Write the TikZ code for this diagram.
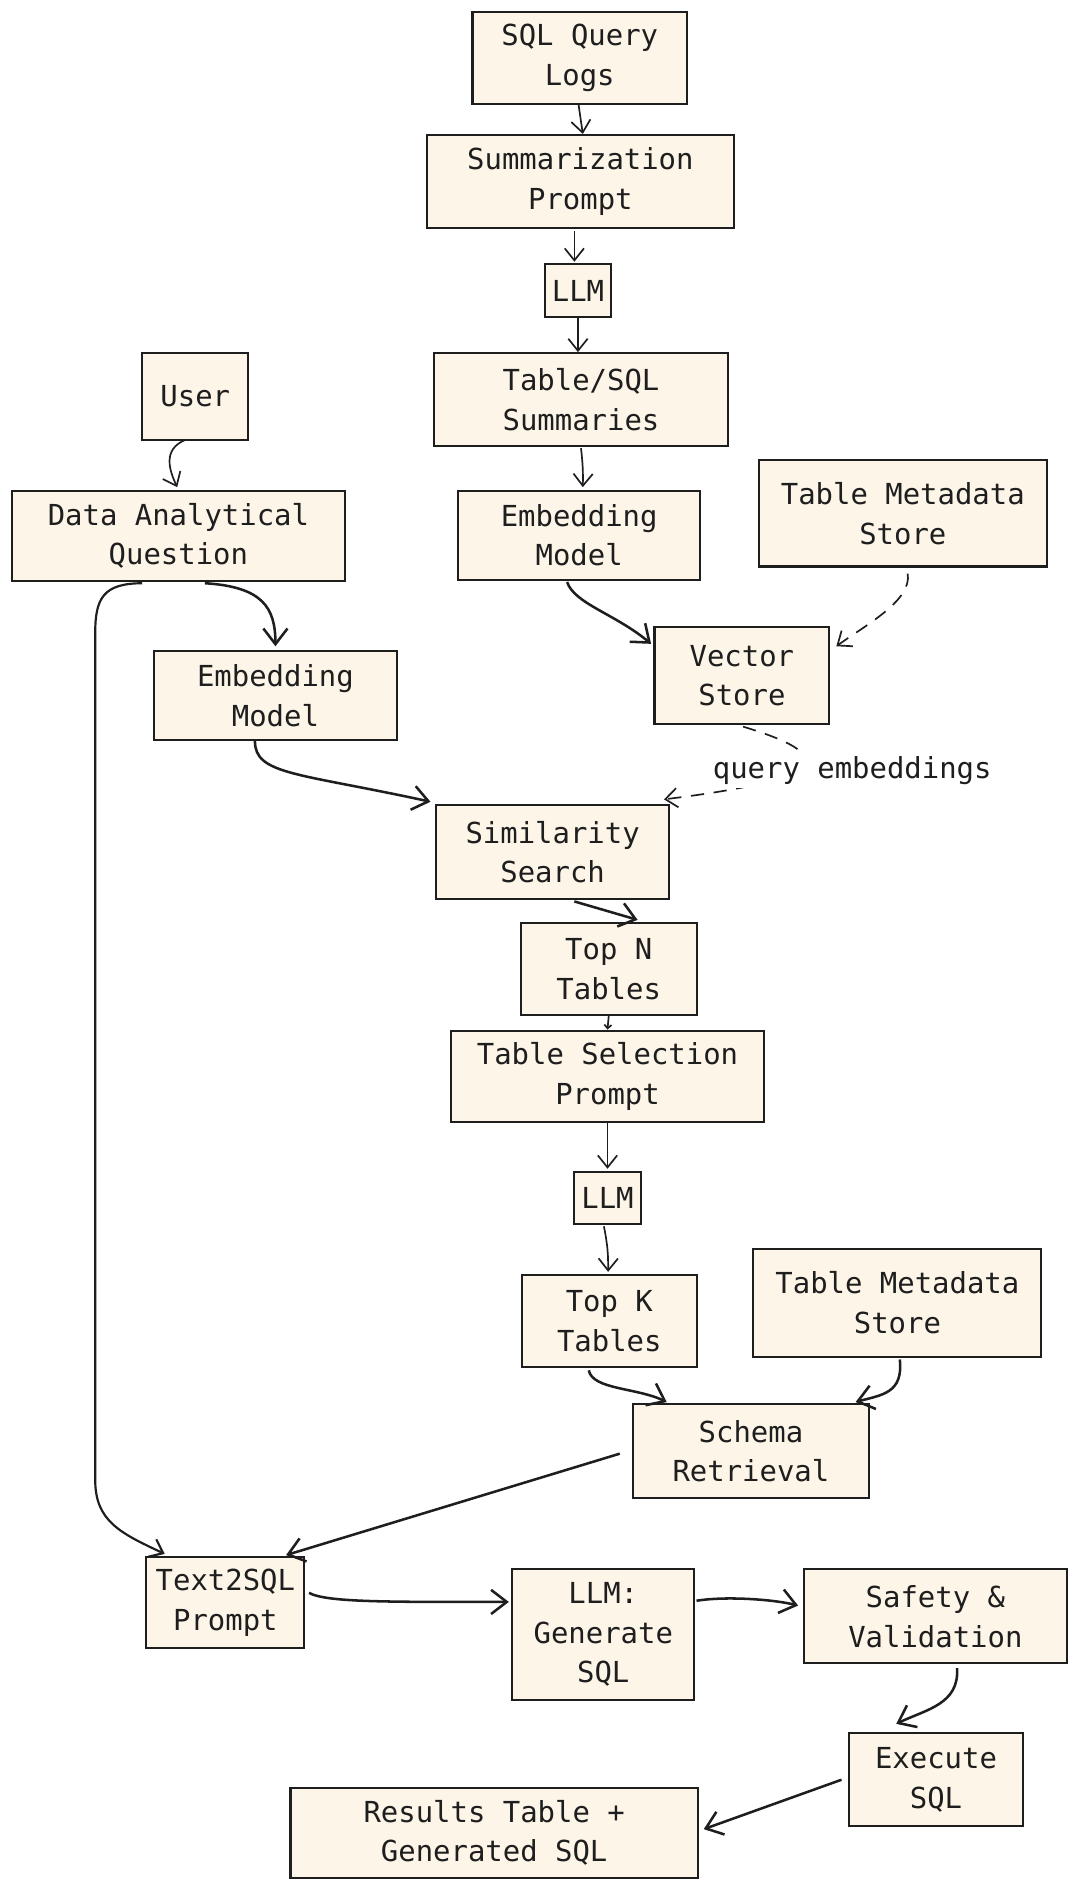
\documentclass[tikz,border=0pt]{standalone}
\usepackage{fontspec}
\newfontfamily\dgfont{DejaVu Sans Mono}
\usetikzlibrary{arrows.meta,calc}
\definecolor{cream}{RGB}{253,245,232}
\definecolor{ink}{RGB}{30,30,30}
\begin{document}
\begin{tikzpicture}[x=0.5pt,y=-0.5pt,
  box/.style={draw=ink, fill=cream, line width=0.85pt, text=ink, align=center, inner sep=0pt,
    font=\dgfont\fontsize{12}{16.5}\selectfont},
  lbl/.style={fill=white, text=ink, inner sep=1.5pt, font=\dgfont\fontsize{12}{16.5}\selectfont},
  arr/.style={draw=ink, line width=0.7pt, -{Straight Barb[length=5pt,width=8pt]}},
  arrthick/.style={draw=ink, line width=1.05pt, -{Straight Barb[length=6.5pt,width=10pt]}},
  dashline/.style={dash pattern=on 5.5pt off 4pt}]
\fill[white] (0,0) rectangle (896,1568);
\useasboundingbox (0,0) rectangle (896,1568);

% nodes
\node[box, minimum width=89pt, minimum height=38pt] (sql) at (481,48) {SQL Query\\Logs};
\node[box, minimum width=127.5pt, minimum height=38.5pt] (summ) at (481.5,150.5) {Summarization\\Prompt};
\node[box, minimum width=27.5pt, minimum height=22pt] (llmA) at (479.5,241) {LLM};
\node[box, minimum width=122pt, minimum height=38.5pt] (tsum) at (482,331.5) {Table/SQL\\Summaries};
\node[box, minimum width=44pt, minimum height=36pt] (user) at (162,329) {User};
\node[box, minimum width=138pt, minimum height=37.5pt] (daq) at (148,444.5) {Data Analytical\\Question};
\node[box, minimum width=100.5pt, minimum height=37pt] (embB) at (480.5,444) {Embedding\\Model};
\node[box, minimum width=119.5pt, minimum height=44pt] (tmsA) at (749,426) {Table Metadata\\Store};
\node[box, minimum width=100.5pt, minimum height=37pt] (embA) at (228.5,577) {Embedding\\Model};
\node[box, minimum width=72.5pt, minimum height=40.5pt] (vs) at (615.5,560.5) {Vector\\Store};
\node[box, minimum width=96.5pt, minimum height=39pt] (sim) at (458.5,707) {Similarity\\Search};
\node[box, minimum width=73pt, minimum height=38pt] (topn) at (505,804) {Top N\\Tables};
\node[box, minimum width=130pt, minimum height=38pt] (tsel) at (504,893) {Table Selection\\Prompt};
\node[box, minimum width=28pt, minimum height=21.5pt] (llmB) at (504,994) {LLM};
\node[box, minimum width=72.5pt, minimum height=38pt] (topk) at (505.5,1096) {Top K\\Tables};
\node[box, minimum width=119.5pt, minimum height=45pt] (tmsB) at (744.5,1081) {Table Metadata\\Store};
\node[box, minimum width=98pt, minimum height=39pt] (schema) at (623,1204) {Schema\\Retrieval};
\node[box, minimum width=65.5pt, minimum height=37.5pt] (tts) at (187,1329.5) {Text2SQL\\Prompt};
\node[box, minimum width=75.5pt, minimum height=54pt] (gen) at (500.5,1356) {LLM:\\Generate\\SQL};
\node[box, minimum width=109pt, minimum height=39pt] (safe) at (776,1341) {Safety \&\\Validation};
\node[box, minimum width=72.5pt, minimum height=38.5pt] (exec) at (776.5,1476.5) {Execute\\SQL};
\node[box, minimum width=169pt, minimum height=37.5pt] (res) at (410,1520.5) {Results Table +\\Generated SQL};

% connectors, top column
\draw[arr] ($(sql.south)+(-1,0)$) -- ($(summ.north)+(2,0)$);
\draw[arr] ($(summ.south)+(-5,2)$) -- ($(llmA.north)+(-3,-1)$);
\draw[arr] (llmA.south) -- (llmA.south |- tsum.north);
\draw[arr] ($(tsum.south)+(0,1)$) to[bend left=4] ($(embB.north)+(3,-2)$);

% user side
\draw[arr] ($(user.south)+(-8,-1)$) .. controls +(-20,8) and +(-6,-13) .. ($(daq.north)+(-1,-2)$);
\draw[arrthick] ($(daq.south)+(22,1)$) .. controls +(48,3) and +(0,-32) .. ($(embA.north)+(0,-3)$);
\draw[arr, line width=0.9pt] ($(daq.south)+(-30,1)$) .. controls (86,484) and (79,496) .. (79,525)
   -- (79,1228) .. controls (79,1262) and (100,1272) .. ($(tts.north west)+(16,-2)$);
\draw[arrthick] ($(embA.south)+(-17,0)$) .. controls +(0,28) and +(-110,-24) .. ($(sim.north west)+(-4,-2)$);

% vector store
\draw[arrthick] ($(embB.south)+(-10,1)$) .. controls +(6,18) and +(-30,-25) .. ($(vs.north west)+(-2,15)$);
\draw[arr, dashline] ($(tmsA.south)+(4,5)$) .. controls +(4,22) and +(25,-18) .. ($(vs.north east)+(5,17)$);
\draw[arr, dashline] ($(vs.south)+(1,1)$) .. controls +(73,22) and +(148,-18) .. ($(sim.north east)+(-5,-4)$);
\node[lbl] (qe) at (707,639) {query embeddings};

% middle column
\draw[arrthick] ($(sim.south)+(18,1)$) -- ($(topn.north)+(24,-2)$);
\draw[draw=ink, line width=0.7pt, -{Straight Barb[length=1.5pt,width=3pt]}] (topn.south) -- (tsel.north);
\draw[arr] (tsel.south) -- ($(llmB.north)+(0,-2)$);
\draw[arr] ($(llmB.south)+(-3,1)$) to[bend left=6] ($(topk.north)+(-1,-2)$);
\draw[arrthick] ($(topk.south)+(-17,2)$) .. controls +(3,16) and +(-25,-12) .. ($(schema.north west)+(29,-1)$);
\draw[arrthick] ($(tmsB.south)+(2,1)$) .. controls +(3,28) and +(22,-6) .. ($(schema.north east)+(-12,-1)$);
\draw[arrthick] ($(schema.west)+(-10,2)$) -- ($(tts.north east)+(-16,-1)$);

% bottom row
\draw[arrthick] ($(tts.east)+(3,-8)$) .. controls +(15,8) and +(-100,0) .. ($(gen.west)+(-2,-27)$);
\draw[arrthick] ($(gen.east)+(1,-28)$) .. controls +(25,-4) and +(-20,-5) .. ($(safe.west)+(-4,-9)$);
\draw[arrthick] ($(safe.south)+(18,3)$) .. controls +(2,30) and +(25,-12) .. ($(exec.north)+(-33,-7)$);
\draw[arrthick] ($(exec.west)+(-5,0)$) -- ($(res.east)+(4,-3)$);
\end{tikzpicture}
\end{document}
